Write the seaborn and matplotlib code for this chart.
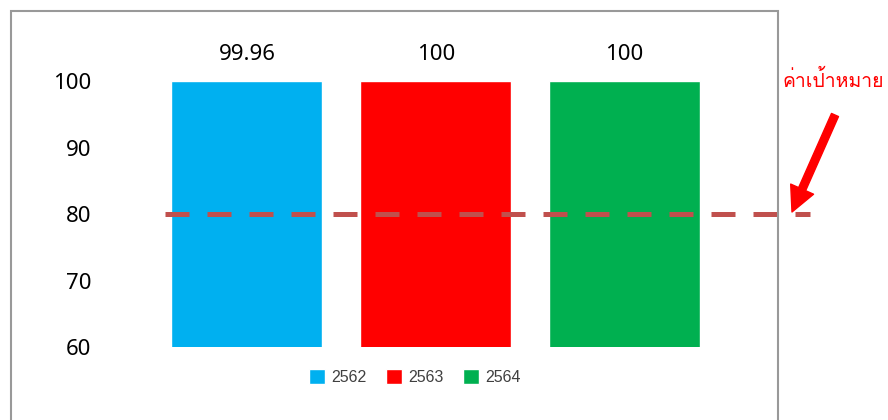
import matplotlib
matplotlib.use("Agg")
import matplotlib.pyplot as plt
import seaborn as sns
import pandas as pd
from matplotlib.patches import Rectangle
from matplotlib import font_manager
from matplotlib.ft2font import FT2Font

# === data ===
years = ["2562", "2563", "2564"]
values = [99.96, 100, 100]
value_labels = ["99.96", "100", "100"]
target = 80
target_label = "ค่าเป้าหมาย"
colors = ["#00B0F0", "#FF0000", "#00B050"]
y_ticks = [60, 70, 80, 90, 100]

df = pd.DataFrame({"year": years, "value": values})


# === find an installed family that can draw Thai ===
def thai_family():
    for f in font_manager.fontManager.ttflist:
        try:
            cmap = FT2Font(f.fname).get_charmap()
        except Exception:
            continue
        if all(ord(c) in cmap for c in target_label):
            return f.name
    return "DejaVu Sans"


sns.set_style("white")
plt.rcParams["font.family"] = ["Noto Sans", "DejaVu Sans"]

fig = plt.figure(figsize=(8.88, 4.2), dpi=100)
ax = fig.add_axes([0.1717, 0.1738, 0.638, 0.6333])

sns.barplot(data=df, x="year", y="value", hue="year", palette=colors,
            width=0.80, ax=ax, legend=True, saturation=1)

ax.set_ylim(60, 100)
ax.set_xlim(-0.5, 2.5)
ax.set_yticks(y_ticks)
ax.tick_params(axis="y", length=0, pad=44, labelsize=16, labelcolor="black")
ax.set_xticks([])
ax.set_xlabel("")
ax.set_ylabel("")
for s in ax.spines.values():
    s.set_visible(False)

# value labels above bars
for i, lab in enumerate(value_labels):
    ax.text(i, 104, lab, ha="center", va="center", fontsize=16,
            color="black", clip_on=False)

# target line
ax.hlines(target, -0.434, 2.98, colors="#C0504D", linewidth=3.6,
          linestyles=(0, (4.8, 3.6)), clip_on=False, zorder=5)

# legend
handles, labels = ax.get_legend_handles_labels()
ax.legend(handles, labels, loc="center", bbox_to_anchor=(0.467, 0.102),
          bbox_transform=fig.transFigure, ncol=3, frameon=False,
          handlelength=1.0, handleheight=1.0, handletextpad=0.4,
          columnspacing=1.2, prop={"family": "Liberation Sans", "size": 11.5},
          labelcolor="#404040")

# outer frame (cut off at the bottom)
fig.patches.append(Rectangle((11 / 888, -0.2), 767 / 888, 1.2 - 11 / 420,
                             transform=fig.transFigure, fill=False,
                             edgecolor="#999999", linewidth=1.5))

# arrow + target text
ax.annotate("", xy=(792 / 888, 1 - 212 / 420), xytext=(835 / 888, 1 - 115 / 420),
            xycoords="figure fraction", textcoords="figure fraction",
            arrowprops=dict(facecolor="red", edgecolor="red", width=5.5,
                            headwidth=18, headlength=18))
fig.text(833 / 888, 1 - 80 / 420, target_label, color="red", fontsize=14,
         ha="center", va="center", family=[thai_family(), "DejaVu Sans"])

plt.savefig("out.png", dpi=100)
